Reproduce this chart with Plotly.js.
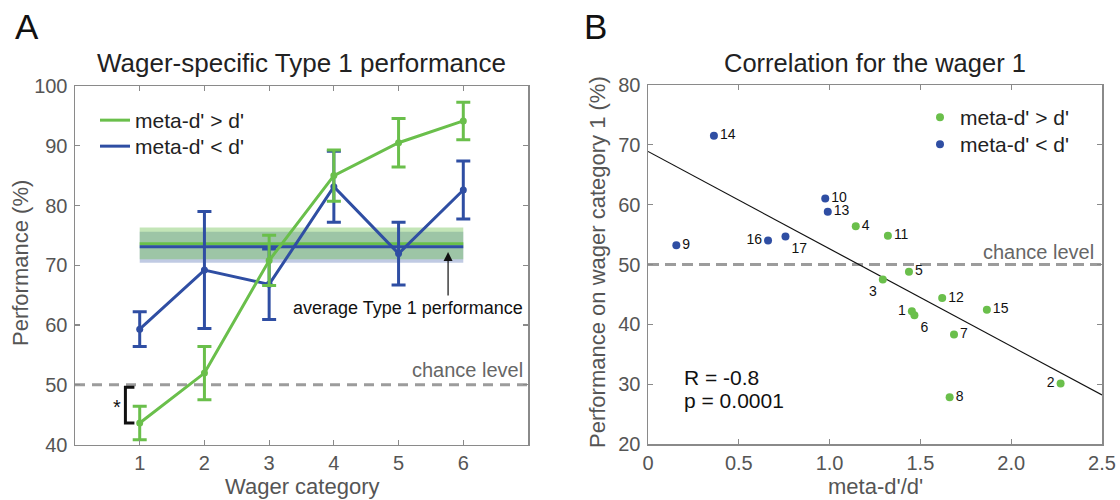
<!DOCTYPE html>
<html>
<head>
<meta charset="utf-8">
<script src="https://cdn.plot.ly/plotly-3.0.1.min.js"></script>
<style>html,body{margin:0;padding:0;background:#fff;}#chart{width:1120px;height:500px;}</style>
</head>
<body>
<div id="chart"></div>
<script>
// ---------- Panel A data ----------
const wagerCategories = [1, 2, 3, 4, 5, 6];
const perfMetaGreater = [43.6, 51.95, 70.8, 85.0, 90.5, 94.15];
const errMetaGreater = [2.8, 4.45, 4.2, 4.3, 4.05, 3.15];
const perfMetaLess = [59.3, 69.2, 66.8, 83.15, 71.95, 82.6];
const errMetaLess = [2.9, 9.8, 5.9, 5.95, 5.25, 4.85];
const avgSpan = [1, 6];
const avgGreaterBand = [71.0, 76.3];
const avgLessBand = [70.4, 75.6];
const avgGreaterMean = [73.6, 73.6];
const avgLessMean = [73.1, 73.1];
const chanceLevel = 50;
const xTicksA = [1, 2, 3, 4, 5, 6];
const yTicksA = [40, 50, 60, 70, 80, 90, 100];

// ---------- Panel B data ----------
const greenIds = ['1', '2', '3', '4', '5', '6', '7', '8', '11', '12', '15'];
const greenRatio = [1.453, 2.272, 1.293, 1.144, 1.437, 1.467, 1.685, 1.661, 1.321, 1.620, 1.866];
const greenPerf = [42.2, 30.1, 47.5, 56.4, 48.8, 41.5, 38.3, 27.8, 54.8, 44.4, 42.45];
const blueIds = ['9', '10', '13', '14', '16', '17'];
const blueRatio = [0.156, 0.976, 0.990, 0.363, 0.661, 0.757];
const bluePerf = [53.2, 61.05, 58.8, 71.5, 54.0, 54.7];
const fitX = [0, 2.5];
const fitY = [68.9, 28.2];
const xTicksB = [0, 0.5, 1.0, 1.5, 2.0, 2.5];
const xTickTextB = ['0', '0.5', '1.0', '1.5', '2.0', '2.5'];
const yTicksB = [20, 30, 40, 50, 60, 70, 80];

const greenLabelPos = ['middle left', 'middle left', 'bottom left', 'middle right', 'middle right', 'bottom right', 'middle right', 'middle right', 'middle right', 'middle right', 'middle right'];
const blueLabelPos = ['middle right', 'middle right', 'middle right', 'middle right', 'middle left', 'bottom right'];

// ---------- styles ----------
const GREEN = '#6abf4b';
const BLUE = '#2f4ea3';
const GREY_DASH = '#9c9c9c';
const FONT = 'Liberation Sans, Arial, Helvetica, sans-serif';

const traces = [];
// bands (blue first, green on top)
traces.push({
  x: [avgSpan[0], avgSpan[1], avgSpan[1], avgSpan[0]],
  y: [avgLessBand[0], avgLessBand[0], avgLessBand[1], avgLessBand[1]],
  type: 'scatter', mode: 'none', fill: 'toself', fillcolor: 'rgba(47,78,163,0.30)',
  showlegend: false, hoverinfo: 'skip', xaxis: 'x', yaxis: 'y'
});
traces.push({
  x: [avgSpan[0], avgSpan[1], avgSpan[1], avgSpan[0]],
  y: [avgGreaterBand[0], avgGreaterBand[0], avgGreaterBand[1], avgGreaterBand[1]],
  type: 'scatter', mode: 'none', fill: 'toself', fillcolor: 'rgba(106,191,75,0.40)',
  showlegend: false, hoverinfo: 'skip', xaxis: 'x', yaxis: 'y'
});
traces.push({
  x: avgSpan, y: avgGreaterMean, type: 'scatter', mode: 'lines',
  line: {color: GREEN, width: 3}, showlegend: false, hoverinfo: 'skip', xaxis: 'x', yaxis: 'y'
});
traces.push({
  x: avgSpan, y: avgLessMean, type: 'scatter', mode: 'lines',
  line: {color: BLUE, width: 3}, showlegend: false, hoverinfo: 'skip', xaxis: 'x', yaxis: 'y'
});
// chance line A
traces.push({
  x: [0, 7], y: [chanceLevel, chanceLevel], type: 'scatter', mode: 'lines',
  line: {color: GREY_DASH, width: 3, dash: '10px,7px'}, showlegend: false, hoverinfo: 'skip', xaxis: 'x', yaxis: 'y'
});
// series A (lines + error bars, legend), then point markers
traces.push({
  x: wagerCategories, y: perfMetaLess, name: "meta-d' < d'", type: 'scatter', mode: 'lines',
  line: {color: BLUE, width: 3},
  error_y: {type: 'data', array: errMetaLess, color: BLUE, thickness: 3, width: 7},
  xaxis: 'x', yaxis: 'y', legend: 'legend3'
});
traces.push({
  x: wagerCategories, y: perfMetaLess, type: 'scatter', mode: 'markers',
  marker: {color: BLUE, size: 7}, showlegend: false, xaxis: 'x', yaxis: 'y'
});
traces.push({
  x: wagerCategories, y: perfMetaGreater, name: "meta-d' > d'", type: 'scatter', mode: 'lines',
  line: {color: GREEN, width: 3},
  error_y: {type: 'data', array: errMetaGreater, color: GREEN, thickness: 3, width: 7},
  xaxis: 'x', yaxis: 'y', legend: 'legend'
});
traces.push({
  x: wagerCategories, y: perfMetaGreater, type: 'scatter', mode: 'markers',
  marker: {color: GREEN, size: 7}, showlegend: false, xaxis: 'x', yaxis: 'y'
});

// Panel B
traces.push({
  x: [0, 2.5], y: [chanceLevel, chanceLevel], type: 'scatter', mode: 'lines',
  line: {color: GREY_DASH, width: 3, dash: '11px,6px'}, showlegend: false, hoverinfo: 'skip', xaxis: 'x2', yaxis: 'y2'
});
traces.push({
  x: fitX, y: fitY, type: 'scatter', mode: 'lines',
  line: {color: '#111', width: 1.2}, showlegend: false, hoverinfo: 'skip', xaxis: 'x2', yaxis: 'y2'
});
traces.push({
  x: greenRatio, y: greenPerf, text: greenIds, textposition: greenLabelPos,
  name: "meta-d' > d'", type: 'scatter', mode: 'markers+text',
  marker: {color: GREEN, size: 8}, textfont: {family: FONT, size: 14, color: '#111'},
  xaxis: 'x2', yaxis: 'y2', legend: 'legend2'
});
traces.push({
  x: blueRatio, y: bluePerf, text: blueIds, textposition: blueLabelPos,
  name: "meta-d' < d'", type: 'scatter', mode: 'markers+text',
  marker: {color: BLUE, size: 8}, textfont: {family: FONT, size: 14, color: '#111'},
  xaxis: 'x2', yaxis: 'y2', legend: 'legend4'
});

const axisCommon = {
  showgrid: false, zeroline: false, showline: true, linecolor: '#8a8a8a', linewidth: 1.5,
  mirror: 'ticks', ticks: 'inside', ticklen: 5, tickwidth: 1.2, tickcolor: '#8a8a8a',
  tickfont: {family: FONT, size: 20, color: '#555'}, fixedrange: true
};

const annotations = [
  {text: 'A', x: 27 / 1120, y: 1 - 26 / 500, xref: 'paper', yref: 'paper', showarrow: false, xanchor: 'center', yanchor: 'middle', font: {family: FONT, size: 35, color: '#111'}},
  {text: 'B', x: 595 / 1120, y: 1 - 26 / 500, xref: 'paper', yref: 'paper', showarrow: false, xanchor: 'center', yanchor: 'middle', font: {family: FONT, size: 35, color: '#111'}},
  {text: 'Wager-specific Type 1 performance', x: 301.5 / 1120, y: 1 - 62.5 / 500, xref: 'paper', yref: 'paper', showarrow: false, xanchor: 'center', yanchor: 'middle', font: {family: FONT, size: 26, color: '#222'}},
  {text: 'Correlation for the wager 1', x: 875 / 1120, y: 1 - 62.5 / 500, xref: 'paper', yref: 'paper', showarrow: false, xanchor: 'center', yanchor: 'middle', font: {family: FONT, size: 25.5, color: '#222'}},
  {text: 'Wager category', x: 301.5 / 1120, y: 1 - 486 / 500, xref: 'paper', yref: 'paper', showarrow: false, xanchor: 'center', yanchor: 'middle', font: {family: FONT, size: 22, color: '#555'}},
  {text: "meta-d'/d'", x: 875 / 1120, y: 1 - 486 / 500, xref: 'paper', yref: 'paper', showarrow: false, xanchor: 'center', yanchor: 'middle', font: {family: FONT, size: 22, color: '#555'}},
  {text: 'Performance (%)', x: 20 / 1120, y: 1 - 263 / 500, xref: 'paper', yref: 'paper', showarrow: false, textangle: -90, xanchor: 'center', yanchor: 'middle', font: {family: FONT, size: 22, color: '#555'}},
  {text: 'Performance on wager category 1 (%)', x: 597 / 1120, y: 1 - 262 / 500, xref: 'paper', yref: 'paper', showarrow: false, textangle: -90, xanchor: 'center', yanchor: 'middle', font: {family: FONT, size: 22, color: '#555'}},
  // panel A notes
  {text: 'chance level', x: 6.95, y: 52.4, xref: 'x', yref: 'y', showarrow: false, xanchor: 'right', yanchor: 'middle', font: {family: FONT, size: 20, color: '#666'}},
  {text: 'average Type 1 performance', x: 6.95, y: 62.8, xref: 'x', yref: 'y', showarrow: false, xanchor: 'right', yanchor: 'middle', font: {family: FONT, size: 18, color: '#111'}},
  {text: '', x: 5.765, y: 72.2, ax: 5.765, ay: 64.7, xref: 'x', yref: 'y', axref: 'x', ayref: 'y', showarrow: true, arrowhead: 2, arrowsize: 1.5, arrowwidth: 1.2, arrowcolor: '#111'},
  {text: '*', x: 0.645, y: 46.3, xref: 'x', yref: 'y', showarrow: false, xanchor: 'center', yanchor: 'middle', font: {family: FONT, size: 20, color: '#111'}},
  // panel B notes
  {text: 'chance level', x: 2.466, y: 52.1, xref: 'x2', yref: 'y2', showarrow: false, xanchor: 'right', yanchor: 'middle', font: {family: FONT, size: 20, color: '#666'}},
  {text: 'R = -0.8', x: 0.187, y: 31.1, xref: 'x2', yref: 'y2', showarrow: false, xanchor: 'left', yanchor: 'middle', font: {family: FONT, size: 21, color: '#111'}},
  {text: 'p = 0.0001', x: 0.187, y: 27.35, xref: 'x2', yref: 'y2', showarrow: false, xanchor: 'left', yanchor: 'middle', font: {family: FONT, size: 21, color: '#111'}}
];

const bracketTop = chanceLevel - 0.4;
const bracketBottom = perfMetaGreater[0];
const shapes = [
  {type: 'path', xref: 'x', yref: 'y',
   path: 'M 0.918 ' + bracketTop + ' L 0.779 ' + bracketTop + ' L 0.779 ' + bracketBottom + ' L 0.918 ' + bracketBottom,
   line: {color: '#111', width: 3}}
];

function legendAt(px, py) {
  return {x: px / 1120, y: 1 - py / 500, xanchor: 'left', yanchor: 'top', bgcolor: 'rgba(0,0,0,0)', borderwidth: 0,
          font: {family: FONT, size: 21, color: '#222'}};
}

const layout = {
  width: 1120, height: 500,
  margin: {l: 0, r: 0, t: 0, b: 0},
  paper_bgcolor: '#fff', plot_bgcolor: '#fff',
  font: {family: FONT, color: '#222'},
  xaxis: Object.assign({}, axisCommon, {domain: [75 / 1120, 528 / 1120], range: [0, 7], tickvals: xTicksA, anchor: 'y'}),
  yaxis: Object.assign({}, axisCommon, {domain: [1 - 444.5 / 500, 1 - 86 / 500], range: [40, 100], tickvals: yTicksA, anchor: 'x', ticklabelstandoff: 2}),
  xaxis2: Object.assign({}, axisCommon, {domain: [648 / 1120, 1102 / 1120], range: [0, 2.5], tickvals: xTicksB, ticktext: xTickTextB, anchor: 'y2'}),
  yaxis2: Object.assign({}, axisCommon, {domain: [1 - 444 / 500, 1 - 85 / 500], range: [20, 80], tickvals: yTicksB, anchor: 'x2', ticklabelstandoff: 2}),
  legend: legendAt(95, 100),
  legend3: legendAt(95, 126),
  legend2: legendAt(920, 97),
  legend4: legendAt(920, 124),
  annotations: annotations,
  shapes: shapes,
  showlegend: true
};

Plotly.newPlot('chart', traces, layout, {staticPlot: true, displayModeBar: false});
</script>
</body>
</html>
